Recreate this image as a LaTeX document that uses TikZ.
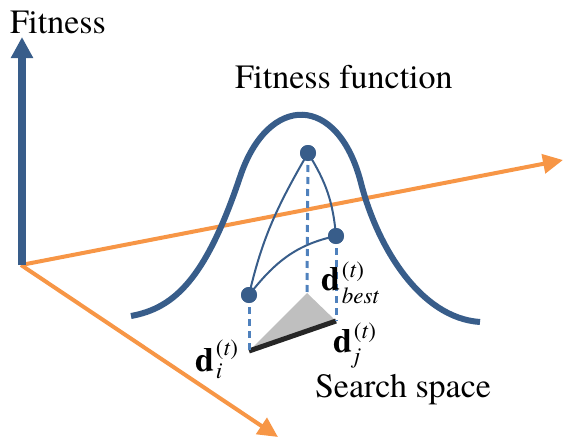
\documentclass[tikz,border=0pt]{standalone}
\usepackage{fontspec}
\setmainfont{texgyretermes}[Extension=.otf, UprightFont=*-regular, BoldFont=*-bold, ItalicFont=*-italic, BoldItalicFont=*-bolditalic]
\usetikzlibrary{arrows.meta}
\definecolor{fitblue}{RGB}{56,93,138}
\definecolor{dashblue}{RGB}{79,129,189}
\definecolor{axisorange}{RGB}{247,150,70}
\definecolor{trigray}{RGB}{191,191,191}
\definecolor{edgeblack}{RGB}{38,38,38}
\newcommand\dlab[3]{\textbf{d}\kern2pt\rlap{\raisebox{#2}{\fontsize{23}{25}\selectfont(\textit{t})}}\raisebox{#3}{\fontsize{23}{25}\selectfont\textit{#1}}}
\begin{document}
\begin{tikzpicture}[x=1pt,y=-1pt,
  every node/.style={inner sep=0pt, outer sep=0pt},
  bigtext/.style={font=\fontsize{34}{40}\selectfont, anchor=base west},
  fitaxis/.style={draw=fitblue, line width=8pt, -{Triangle[length=21pt,width=21pt]}},
  orangeaxis/.style={draw=axisorange, line width=4pt, -{Triangle[length=20pt,width=19pt]}},
  bell/.style={draw=fitblue, line width=6pt},
  dotnode/.style={circle, fill=fitblue, minimum size=16pt},
  dropline/.style={draw=dashblue, line width=3pt, dash pattern=on 7pt off 5pt},
  linkcurve/.style={draw=fitblue, line width=2pt},
  ]
\useasboundingbox (0,0) rectangle (566,439);
% axes
\coordinate (O) at (21,265);
\coordinate (fittip) at (22,37);
\coordinate (xtip) at (563,160);
\coordinate (ytip) at (278,437);
\draw[orangeaxis] (O) -- (xtip);
\draw[orangeaxis] (O) -- (ytip);
\draw[fitaxis] (22,265) -- (fittip);
% fitness function
\draw[bell] (131,316) .. controls (175,308) and (206,278) .. (240,177)
  .. controls (268,93) and (338,93) .. (361,183)
  .. controls (377,246) and (420,318) .. (480,322);
% search-space triangle
\coordinate (A) at (307,293);
\coordinate (R) at (336,321);
\coordinate (L) at (249,351);
\fill[trigray] (A) -- (R) -- (L) -- cycle;
\draw[edgeblack, line width=5pt] (L) -- (R);
% dots
\node[dotnode] (top) at (308,153) {};
\node[dotnode] (rdot) at (336,236) {};
\node[dotnode] (ldot) at (249,295) {};
\draw[dropline] (top.center) -- (A);
\draw[dropline] (rdot.center) -- (R);
\draw[dropline] (ldot.center) -- (L);
\draw[linkcurve] (ldot.center) to[out=77,in=240] (top.center);
\draw[linkcurve] (top.center) to[out=-58,in=95] (rdot.center);
\draw[linkcurve] (ldot.center) to[out=52,in=192] (rdot.center);
\node[dotnode] at (top) {};
\node[dotnode] at (rdot) {};
\node[dotnode] at (ldot) {};
% labels
\node[bigtext] (fitlab) at (10,33) {Fitness};
\node[bigtext] (funlab) at (235,88) {Fitness function};
\node[bigtext] (searchlab) at (315,397) {Search space};
\node[bigtext] (dbest) at (321,290) {\dlab{best}{12.5pt}{-13pt}};
\node[bigtext] (dj) at (333,352) {\dlab{j}{13.5pt}{-11pt}};
\node[bigtext] (di) at (195,371) {\dlab{i}{15.5pt}{-7pt}};
\end{tikzpicture}
\end{document}
